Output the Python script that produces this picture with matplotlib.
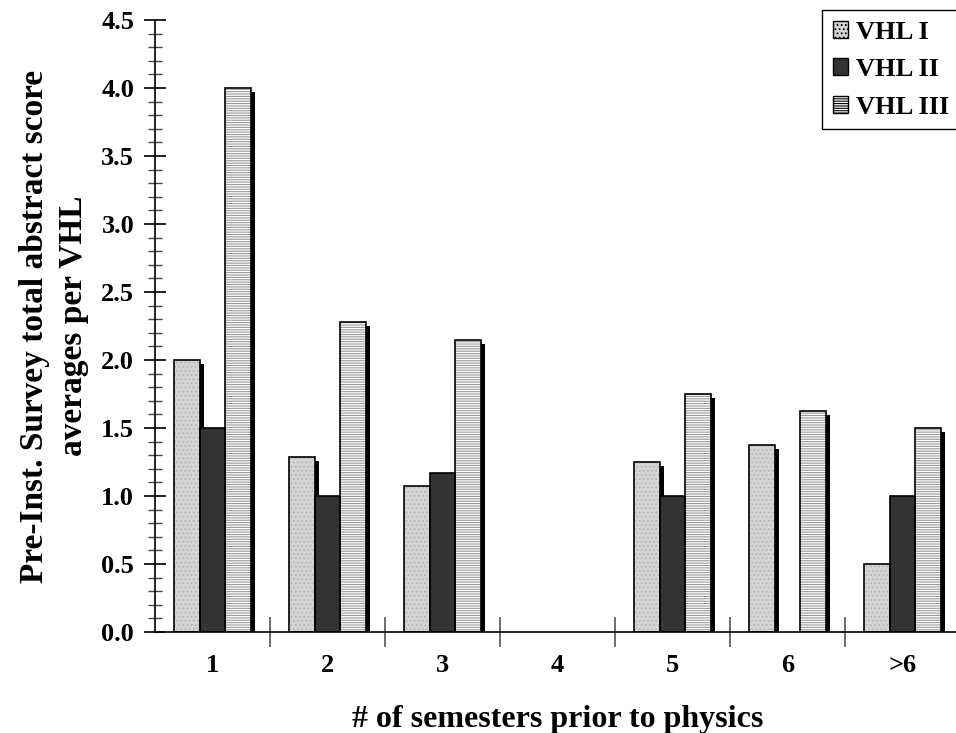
import matplotlib.pyplot as plt
import numpy as np
from matplotlib.ticker import MultipleLocator, FormatStrFormatter

groups = ["1", "2", "3", "4", "5", "6", ">6"]
vhl1 = [2.0, 1.29, 1.07, np.nan, 1.25, 1.375, 0.5]
vhl2 = [1.5, 1.0, 1.17, np.nan, 1.0, np.nan, 1.0]
vhl3 = [4.0, 2.28, 2.15, np.nan, 1.75, 1.625, 1.5]
names = ["VHL I", "VHL II", "VHL III"]


def main():
    plt.rcParams['font.family'] = ['Liberation Serif', 'DejaVu Serif']
    plt.rcParams['font.weight'] = 'bold'
    plt.rcParams['hatch.linewidth'] = 0.8

    fig = plt.figure(figsize=(9.56, 7.33), dpi=100)
    ax = fig.add_axes([0.1621, 0.1378, 0.8421, 0.8349])

    x = np.arange(len(groups))
    w = 0.225
    styles = [
        dict(facecolor='#d4d4d4', hatch='....', hatch_color='#b8b8b8'),
        dict(facecolor='#333333', hatch=None, hatch_color='#333333'),
        dict(facecolor='white', hatch='-------', hatch_color='#9a9a9a'),
    ]
    dx, dy = 0.035, 0.03
    for i, vals in enumerate([vhl1, vhl2, vhl3]):
        vals = np.array(vals, dtype=float)
        ok = ~np.isnan(vals)
        xs = x[ok] + (i - 1) * w
        # drop shadow
        ax.bar(xs + dx, vals[ok] - dy, width=w, color='black', zorder=1)
    for i, vals in enumerate([vhl1, vhl2, vhl3]):
        vals = np.array(vals, dtype=float)
        ok = ~np.isnan(vals)
        xs = x[ok] + (i - 1) * w
        st = styles[i]
        ax.bar(xs, vals[ok], width=w, facecolor=st['facecolor'],
               edgecolor=st['hatch_color'], hatch=st['hatch'],
               linewidth=0, zorder=2, label=names[i])
        ax.bar(xs, vals[ok], width=w, facecolor='none', edgecolor='black',
               linewidth=1.2, zorder=3)

    ax.set_xlim(-0.5, len(groups) - 0.5)
    ax.set_ylim(0, 4.5)
    ax.spines['top'].set_visible(False)
    ax.spines['right'].set_visible(False)
    ax.spines['left'].set_linewidth(1.2)
    ax.spines['bottom'].set_linewidth(1.2)

    ax.yaxis.set_major_locator(MultipleLocator(0.5))
    ax.yaxis.set_minor_locator(MultipleLocator(0.1))
    ax.yaxis.set_major_formatter(FormatStrFormatter('%.1f'))
    ax.tick_params(axis='y', which='major', direction='inout', length=16,
                   width=1.2, labelsize=19, pad=7)
    ax.tick_params(axis='y', which='minor', direction='inout', length=10,
                   width=1.0, color='#444444')

    ax.set_xticks(x)
    ax.set_xticklabels(groups)
    ax.set_xticks(np.arange(len(groups) - 1) + 0.5, minor=True)
    ax.tick_params(axis='x', which='major', length=0, labelsize=19, pad=16)
    ax.tick_params(axis='x', which='minor', direction='inout', length=22,
                   width=1.2, color='#555555')

    for lab in ax.get_xticklabels() + ax.get_yticklabels():
        lab.set_fontweight('bold')

    ax.set_xlabel("# of semesters prior to physics", fontsize=23,
                  fontweight='bold', labelpad=20)
    ax.set_ylabel("Pre-Inst. Survey total abstract score\naverages per VHL",
                  fontsize=24, fontweight='bold', labelpad=9,
                  linespacing=1.3)

    leg = fig.legend(loc='upper left', bbox_to_anchor=(822 / 956, 1 - 10 / 733),
                     prop={'size': 19, 'weight': 'bold'}, fancybox=False,
                     edgecolor='black', framealpha=1, handlelength=0.6,
                     handleheight=0.6, handletextpad=0.3, borderpad=0.4,
                     labelspacing=0.55, borderaxespad=0)
    leg.get_frame().set_linewidth(1.0)
    for h in leg.legend_handles:
        h.set_edgecolor('black')
        h.set_linewidth(1.0)

    plt.savefig('out.png', dpi=100)


if __name__ == "__main__":
    main()
